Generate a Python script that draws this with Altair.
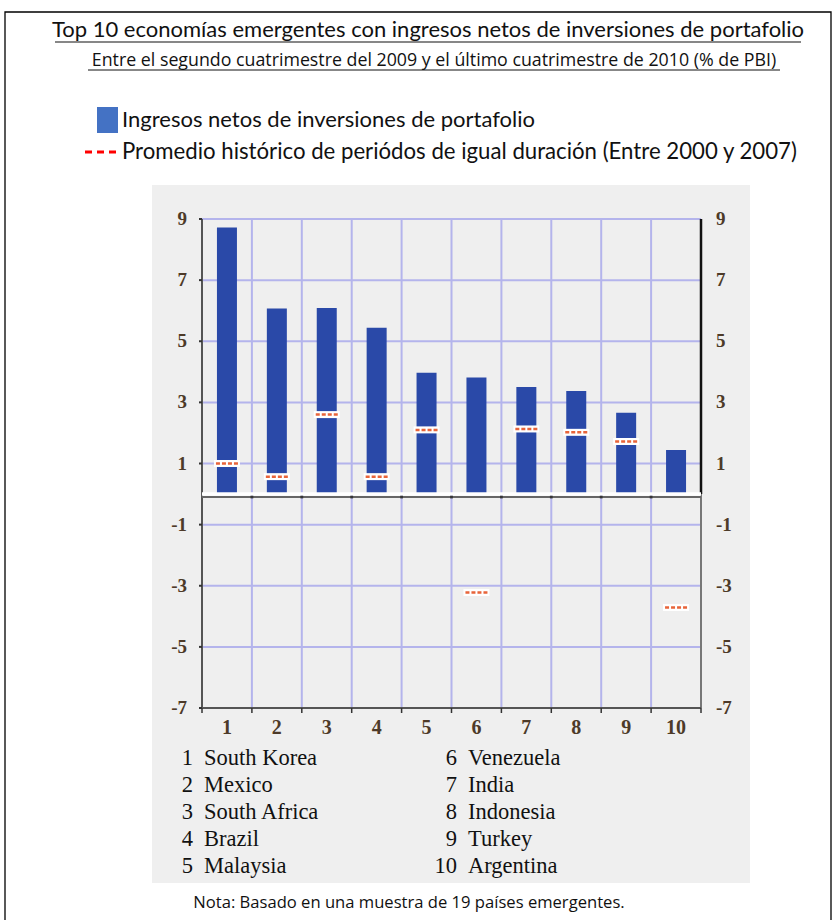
import altair as alt
import numpy as np
import pandas as pd

# ---- data -----------------------------------------------------------------
countries = ["South Korea", "Mexico", "South Africa", "Brazil", "Malaysia",
             "Venezuela", "India", "Indonesia", "Turkey", "Argentina"]
rank = list(range(1, 11))
inflows = [8.72, 6.07, 6.09, 5.44, 3.97, 3.81, 3.50, 3.37, 2.66, 1.44]
hist_avg = [1.00, 0.57, 2.60, 0.57, 2.10, -3.22, 2.13, 2.02, 1.72, -3.71]
y_ticks = [9, 7, 5, 3, 1, -1, -3, -5, -7]

title = "Top 10 economías emergentes con ingresos netos de inversiones de portafolio"
subtitle = "Entre el segundo cuatrimestre del 2009 y el último cuatrimestre de 2010 (% de PBI)"
legend_bar = "Ingresos netos de inversiones de portafolio"
legend_avg = "Promedio histórico de periódos de igual duración (Entre 2000 y 2007)"
note = "Nota: Basado en una muestra de 19 países emergentes."

# ---- tables ---------------------------------------------------------------
df = pd.DataFrame({"rank": rank, "country": countries,
                   "inflow": inflows, "hist": hist_avg,
                   "lab": [str(r) for r in rank]})
ticks = pd.DataFrame({"v": y_ticks, "label": [str(v) for v in y_ticks]})
grid_y = ticks[ticks.v > -7]
bounds = pd.DataFrame({"b": np.arange(1.5, 10.0, 1.0)})
one = pd.DataFrame({"k": [0]})

# ---- scales / helpers -----------------------------------------------------
xs = alt.Scale(domain=[0.5, 10.5], nice=False, zero=False)
ys = alt.Scale(domain=[-7, 9], nice=False, zero=False)


def X(f):
    return alt.X(f, type="quantitative", scale=xs, axis=None)


def Y(f):
    return alt.Y(f, type="quantitative", scale=ys, axis=None)


def XD(v):
    return alt.XDatum(v, type="quantitative", scale=xs, axis=None)


def YD(v):
    return alt.YDatum(v, type="quantitative", scale=ys, axis=None)


SANS = "Lato"
WIDE = "Open Sans"
SERIF = "Liberation Serif"
GRID = "#b4b4ec"
BAR = "#2a49a8"
LABEL = "#4d3a28"
DASH = "#e8643a"

base1 = alt.Chart(one)

# background panel and frame
panel = base1.mark_rect(color="#efefef").encode(
    x=alt.value(-45), x2=alt.value(553), y=alt.value(-34), y2=alt.value(664))
frame = base1.mark_rect(fill=None, stroke="#000000", strokeWidth=1.3).encode(
    x=alt.value(-192), x2=alt.value(634), y=alt.value(-207), y2=alt.value(710))

# titles with underlines
t1 = base1.mark_text(text=title, font=SANS, fontSize=22, align="center",
                     baseline="alphabetic", color="#111111").encode(
    x=alt.value(231), y=alt.value(-182))
u1 = base1.mark_rule(color="#111111", strokeWidth=1.2).encode(
    x=alt.value(-142), x2=alt.value(604), y=alt.value(-177))
t2 = base1.mark_text(text=subtitle, font=WIDE, fontSize=17.8, align="center",
                     baseline="alphabetic", color="#111111").encode(
    x=alt.value(237), y=alt.value(-153))
u2 = base1.mark_rule(color="#111111", strokeWidth=1).encode(
    x=alt.value(-109), x2=alt.value(583), y=alt.value(-149))

# legend
lg_sq = base1.mark_rect(color="#4472c4").encode(
    x=alt.value(-100), x2=alt.value(-79), y=alt.value(-112), y2=alt.value(-86))
lg_t1 = base1.mark_text(text=legend_bar, font=SANS, fontSize=22, align="left",
                        baseline="middle", color="#111111").encode(
    x=alt.value(-75), y=alt.value(-99))
lg_dash = base1.mark_rule(color="#ff0000", strokeWidth=3, strokeDash=[7, 5]).encode(
    x=alt.value(-112), x2=alt.value(-81), y=alt.value(-67))
lg_t2 = base1.mark_text(text=legend_avg, font=SANS, fontSize=22.2, align="left",
                        baseline="middle", color="#111111").encode(
    x=alt.value(-75), y=alt.value(-67))

# grid
vgrid = alt.Chart(bounds).mark_rule(color=GRID, strokeWidth=2).encode(
    x=X("b"), y=YD(9), y2=alt.datum(-7))
hgrid = alt.Chart(grid_y).mark_rule(color=GRID, strokeWidth=2).encode(
    y=Y("v"), x=XD(0.5), x2=alt.datum(10.5))

# axis lines
left_axis = base1.mark_rule(color="#555555", strokeWidth=2).encode(
    x=XD(0.5), y=YD(9), y2=alt.datum(-7))
right_up = base1.mark_rule(color="#111111", strokeWidth=2.5).encode(
    x=XD(10.5), y=YD(9), y2=alt.datum(0))
right_low = base1.mark_rule(color="#777777", strokeWidth=2).encode(
    x=XD(10.5), y=YD(0), y2=alt.datum(-7))
left_ticks = alt.Chart(ticks).mark_rule(color="#333333", strokeWidth=2, xOffset=-3).encode(
    y=Y("v"), x=XD(0.5), x2=alt.datum(0.5))

# bars
bars = alt.Chart(df).mark_bar(width=20, color=BAR).encode(
    x=X("rank"), y=Y("inflow"), y2=alt.datum(0))

# zero line: white gap then grey axis line
zero_gap = base1.mark_rule(color="#ffffff", strokeWidth=3.5).encode(
    x=XD(0.5), x2=alt.datum(10.5), y=YD(0))
zero_line = base1.mark_rule(color="#666666", strokeWidth=2, yOffset=3).encode(
    x=XD(0.5), x2=alt.datum(10.5), y=YD(0))
zero_ticks = alt.Chart(bounds).mark_point(shape="square", size=8, filled=True,
                                          color="#222222", yOffset=3).encode(
    x=X("b"), y=YD(0))

# bottom axis
bottom_line = base1.mark_rule(color="#555555", strokeWidth=2).encode(
    x=XD(0.5), x2=alt.datum(10.5), y=YD(-7))
bottom_ticks = alt.Chart(pd.DataFrame({"b": np.arange(0.5, 11.0, 1.0)})).mark_rule(
    color="#333333", strokeWidth=1.5, y2Offset=5).encode(
    x=X("b"), y=YD(-7), y2=alt.datum(-7))

# historical average markers
avg_gap = alt.Chart(df).mark_rule(color="#ffffff", strokeWidth=7, strokeCap="butt",
                                  xOffset=-13, x2Offset=13).encode(
    x=X("rank"), x2="rank", y=Y("hist"))
avg_dash = alt.Chart(df).mark_rule(color=DASH, strokeWidth=2.5, strokeDash=[4, 2],
                                   strokeCap="butt", xOffset=-11, x2Offset=11).encode(
    x=X("rank"), x2="rank", y=Y("hist"))

# tick labels
ylab_l = alt.Chart(ticks).mark_text(font=SERIF, fontSize=19, fontWeight="bold",
                                    align="right", baseline="middle", color=LABEL).encode(
    y=Y("v"), x=alt.value(-10), text="label")
ylab_r = alt.Chart(ticks).mark_text(font=SERIF, fontSize=19, fontWeight="bold",
                                    align="left", baseline="middle", color=LABEL).encode(
    y=Y("v"), x=alt.value(519), text="label")
xlab = alt.Chart(df).mark_text(font=SERIF, fontSize=20, fontWeight="bold",
                               align="center", baseline="middle", color=LABEL).encode(
    x=X("rank"), y=alt.value(509), text="lab")

# country key (two columns)
col1_num = "\n".join(str(r) for r in rank[:5])
col1_txt = "\n".join(countries[:5])
col2_num = "\n".join(str(r) for r in rank[5:])
col2_txt = "\n".join(countries[5:])
key_style = dict(font=SERIF, fontSize=22.5, baseline="top", lineBreak="\n",
                 lineHeight=27, color="#111111")
k1 = base1.mark_text(text=col1_num, align="right", **key_style).encode(
    x=alt.value(-4), y=alt.value(528))
k2 = base1.mark_text(text=col1_txt, align="left", **key_style).encode(
    x=alt.value(7), y=alt.value(528))
k3 = base1.mark_text(text=col2_num, align="right", **key_style).encode(
    x=alt.value(260), y=alt.value(528))
k4 = base1.mark_text(text=col2_txt, align="left", **key_style).encode(
    x=alt.value(271), y=alt.value(528))

note_t = base1.mark_text(text=note, font=WIDE, fontSize=16.6, align="center",
                         baseline="alphabetic", color="#111111").encode(
    x=alt.value(212), y=alt.value(689))

chart = alt.layer(
    frame, panel, t1, u1, t2, u2, lg_sq, lg_t1, lg_dash, lg_t2,
    vgrid, hgrid, left_axis, right_up, right_low, left_ticks,
    bars, zero_gap, zero_line, zero_ticks, bottom_line, bottom_ticks,
    avg_gap, avg_dash, ylab_l, ylab_r, xlab, k1, k2, k3, k4, note_t,
).properties(
    width=509, height=489,
    autosize=alt.AutoSizeParams(type="none"),
    padding={"left": 197, "top": 219, "right": 127, "bottom": 212},
    background="#ffffff",
).configure_view(stroke=None)

chart.save("out.html", embed_options={"renderer": "svg", "actions": False})
